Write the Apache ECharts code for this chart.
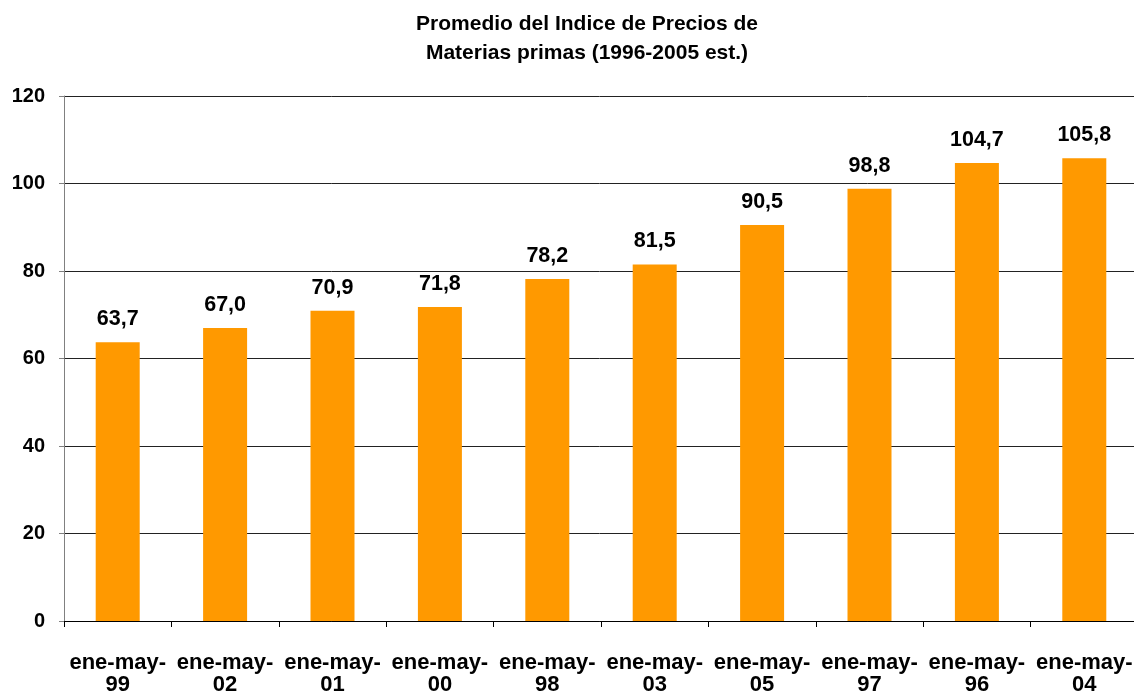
<!DOCTYPE html>
<html lang="es">
<head>
    <meta charset="UTF-8">
    <title>ECharts</title>
    <script src="https://cdn.jsdelivr.net/npm/echarts@6/dist/echarts.min.js"></script>
    <style type="text/css">
        *{margin: 0;padding: 0;border: none}
        html,body{width: 100%;height: 100%;overflow: hidden;background: #fff}
        #main{width: 1134px;height: 693px}
    </style>
</head>
<body>
<div id="main"></div>
<script type="text/javascript">
    // datos
    var categorias = ['ene-may-\n99', 'ene-may-\n02', 'ene-may-\n01', 'ene-may-\n00', 'ene-may-\n98',
                      'ene-may-\n03', 'ene-may-\n05', 'ene-may-\n97', 'ene-may-\n96', 'ene-may-\n04'];
    var valores = [63.7, 67.0, 70.9, 71.8, 78.2, 81.5, 90.5, 98.8, 104.7, 105.8];
    var ejeY = [0, 20, 40, 60, 80, 100, 120];

    var fuente = '"Liberation Sans", Arial, sans-serif';
    var myChart = echarts.init(document.getElementById('main'));
    var option = {
        animation: false,
        title: {
            text: 'Promedio del Indice de Precios de\nMaterias primas (1996-2005 est.)',
            left: 582,
            textAlign: 'center',
            top: 5,
            textStyle: {
                fontFamily: fuente,
                fontWeight: 'bold',
                fontSize: 21,
                lineHeight: 29,
                color: '#000'
            }
        },
        grid: {
            left: 64,
            top: 96,
            width: 1074,
            bottom: 72,
            containLabel: false,
            outerBoundsMode: 'none'
        },
        xAxis: {
            type: 'category',
            data: categorias,
            axisLine: {lineStyle: {color: '#000', width: 1}},
            axisTick: {show: true, length: 6, lineStyle: {color: '#000'}},
            axisLabel: {
                fontFamily: fuente,
                fontWeight: 'bold',
                fontSize: 22,
                lineHeight: 22,
                color: '#000',
                margin: 31,
                interval: 0
            }
        },
        yAxis: {
            type: 'value',
            min: ejeY[0],
            max: ejeY[ejeY.length - 1],
            interval: 20,
            axisLine: {show: true, lineStyle: {color: '#808080'}},
            axisTick: {show: true, length: 5, lineStyle: {color: '#808080'}},
            splitLine: {lineStyle: {color: '#222', width: 1}},
            axisLabel: {
                fontFamily: fuente,
                fontWeight: 'bold',
                fontSize: 20,
                color: '#000',
                margin: 19
            }
        },
        series: [{
            type: 'bar',
            data: valores,
            barWidth: 44,
            itemStyle: {color: '#FF9900'},
            label: {
                show: true,
                position: 'top',
                distance: 12,
                fontFamily: fuente,
                fontWeight: 'bold',
                fontSize: 21.5,
                color: '#000',
                formatter: function (p) {
                    return p.value.toFixed(1).replace('.', ',');
                }
            }
        }]
    };
    myChart.setOption(option);
</script>
</body>
</html>
